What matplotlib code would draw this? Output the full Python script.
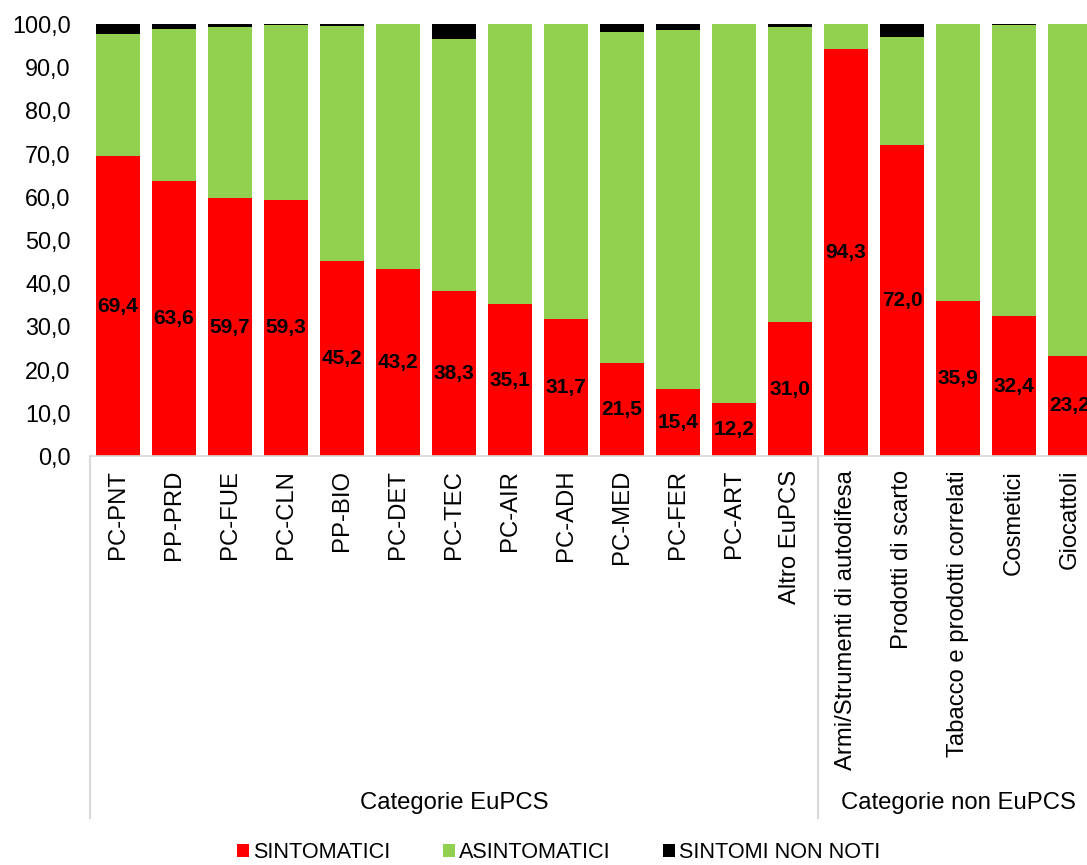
import matplotlib
matplotlib.use("Agg")
import matplotlib.pyplot as plt
from matplotlib.patches import Patch
from matplotlib.lines import Line2D

plt.rcParams['font.family'] = ['Liberation Sans', 'DejaVu Sans']

categories = ["PC-PNT", "PP-PRD", "PC-FUE", "PC-CLN", "PP-BIO", "PC-DET", "PC-TEC",
              "PC-AIR", "PC-ADH", "PC-MED", "PC-FER", "PC-ART", "Altro EuPCS",
              "Armi/Strumenti di autodifesa", "Prodotti di scarto",
              "Tabacco e prodotti correlati", "Cosmetici", "Giocattoli"]
groups = ["Categorie EuPCS", "Categorie non EuPCS"]
group_sizes = [13, 5]

sintomatici = [69.4, 63.6, 59.7, 59.3, 45.2, 43.2, 38.3, 35.1, 31.7, 21.5, 15.4, 12.2, 31.0,
               94.3, 72.0, 35.9, 32.4, 23.2]
asintomatici = [28.2, 35.2, 39.7, 40.4, 54.3, 56.7, 58.3, 64.8, 68.3, 76.7, 83.1, 87.8, 68.4,
                5.7, 24.9, 64.1, 67.4, 76.8]
non_noti = [2.4, 1.2, 0.6, 0.3, 0.5, 0.1, 3.4, 0.1, 0.0, 1.8, 1.5, 0.0, 0.6,
            0.0, 3.1, 0.0, 0.2, 0.0]

series_names = ["SINTOMATICI", "ASINTOMATICI", "SINTOMI NON NOTI"]
colors = ["#FF0000", "#92D050", "#000000"]

W, H = 1087, 865
fig = plt.figure(figsize=(W / 100, H / 100), dpi=100)
left_px, step_px = 90, 56.0
n = len(categories)
ax = fig.add_axes([left_px / W, 1 - 456 / H, n * step_px / W, (456 - 24) / H])

x = list(range(n))
bw = 0.8
ax.bar(x, sintomatici, bw, color=colors[0], zorder=2)
ax.bar(x, asintomatici, bw, bottom=sintomatici, color=colors[1], zorder=2)
bottoms = [s + a for s, a in zip(sintomatici, asintomatici)]
ax.bar(x, non_noti, bw, bottom=bottoms, color=colors[2], zorder=2)

for xi, v in zip(x, sintomatici):
    ax.text(xi, v / 2, f"{v:.1f}".replace(".", ","), ha="center", va="center",
            fontsize=15, fontweight="bold", color="black", zorder=3)

ax.set_xlim(-0.5, n - 0.5)
ax.set_ylim(0, 100)
ax.set_yticks(range(0, 101, 10))
ax.set_yticklabels([f"{v},0" for v in range(0, 101, 10)], fontsize=16.8)
ax.tick_params(axis="y", length=0, pad=14)
ax.set_xticks(x)
ax.set_xticklabels(categories, rotation=90, fontsize=17.2, va="top")
ax.tick_params(axis="x", length=0, pad=10)
for s in ["top", "right", "left"]:
    ax.spines[s].set_visible(False)
ax.spines["bottom"].set_color("#D9D9D9")
ax.spines["bottom"].set_linewidth(1.2)

# group separators and labels
ybot_axes = -(818 - 456) / (456 - 24)
ylab_axes = -(803 - 456) / (456 - 24)
pos = -0.5
for g, size in zip(groups, group_sizes):
    ax.add_line(Line2D([pos, pos], [0, ybot_axes], transform=ax.get_xaxis_transform(),
                       color="#D9D9D9", lw=1.5, clip_on=False))
    ax.text(pos + size / 2, ylab_axes, g, transform=ax.get_xaxis_transform(),
            ha="center", va="center", fontsize=17.2)
    pos += size

handles = [Patch(facecolor=c, edgecolor="none") for c in colors]
fig.legend(handles, series_names, loc="center", bbox_to_anchor=(0.514, 1 - 853 / H),
           ncol=3, frameon=False, fontsize=15.6, handlelength=0.55, handleheight=0.55,
           handletextpad=0.2, columnspacing=2.4)

fig.savefig("out.png", dpi=100)
